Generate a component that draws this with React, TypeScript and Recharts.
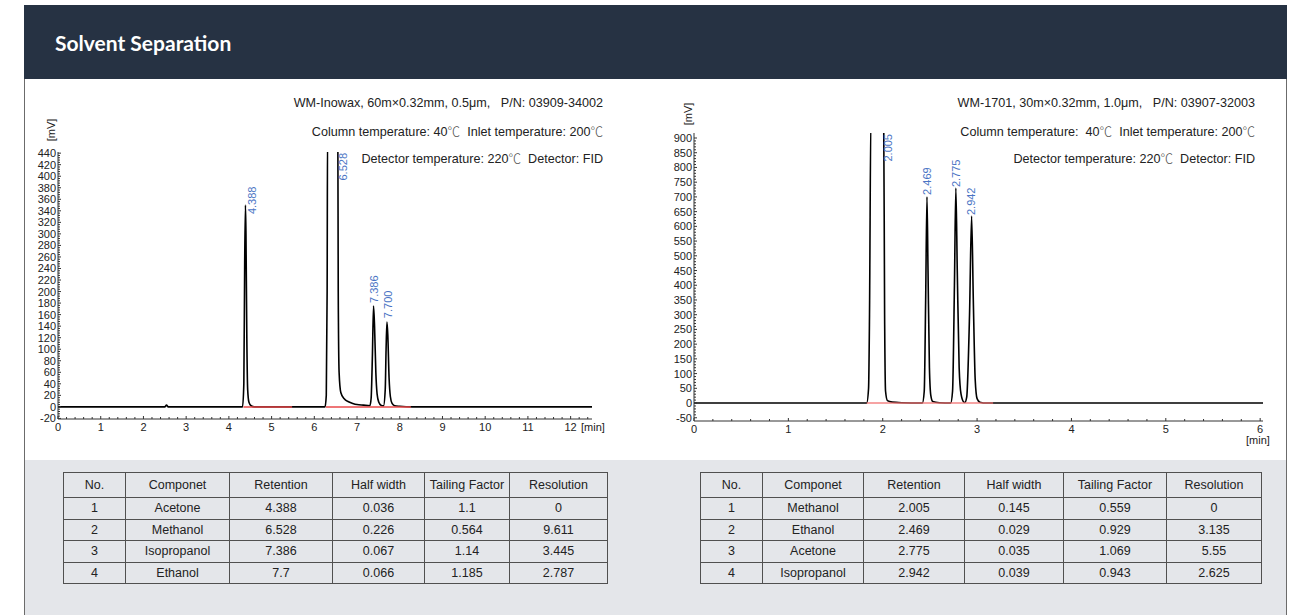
import React from "react";
import { ComposedChart, Line, Scatter, XAxis, YAxis } from "recharts";

// WM-Inowax trace, [min, mV]
const inowaxTrace = [
  [0, 0], [2.5, 0], [2.54, 3], [2.58, 0], [4.32, 0], [4.35, 40], [4.37, 250],
  [4.388, 350], [4.4, 300], [4.42, 120], [4.44, 30], [4.47, 8], [4.52, 2],
  [4.6, 0], [6.25, 0], [6.28, 20], [6.3, 200], [6.31, 480], [6.55, 480],
  [6.56, 200], [6.58, 60], [6.62, 25], [6.7, 14], [6.8, 9], [6.9, 6], [7.0, 4],
  [7.15, 3], [7.3, 2], [7.33, 15], [7.36, 90], [7.386, 175], [7.41, 140],
  [7.44, 60], [7.47, 22], [7.51, 8], [7.56, 3], [7.62, 2], [7.66, 30],
  [7.68, 100], [7.7, 147], [7.72, 125], [7.75, 50], [7.78, 18], [7.82, 6],
  [7.88, 2], [8.0, 1], [8.3, 0], [12.5, 0],
];
const inowaxBaselines = [[4.34, 5.48], [6.27, 8.26]];
const inowaxPeakTimes = [4.388, 6.528, 7.386, 7.7];
const inowaxPeakLabels = ["4.388", "6.528", "7.386", "7.700"];
const inowaxPeakHeights = [350, null, 175, 147]; // null = off scale
const inowaxXTicks = [0, 1, 2, 3, 4, 5, 6, 7, 8, 9, 10, 11, 12];
const inowaxYTicks = [
  -20, 0, 20, 40, 60, 80, 100, 120, 140, 160, 180, 200, 220, 240, 260, 280,
  300, 320, 340, 360, 380, 400, 420, 440,
];

// WM-1701 trace
const wm1701Trace = [
  [0, 0], [1.83, 0], [1.85, 50], [1.86, 300], [1.875, 980], [2.01, 980],
  [2.02, 300], [2.03, 40], [2.05, 8], [2.1, 3], [2.2, 1], [2.4, 0], [2.42, 0],
  [2.44, 40], [2.455, 350], [2.469, 700], [2.48, 450], [2.495, 120],
  [2.51, 25], [2.53, 5], [2.6, 1], [2.72, 0], [2.74, 40], [2.76, 400],
  [2.775, 730], [2.79, 450], [2.81, 120], [2.83, 30], [2.86, 3], [2.87, 2],
  [2.89, 20], [2.92, 300], [2.942, 635], [2.96, 350], [2.98, 80], [3.0, 15],
  [3.03, 3], [3.1, 0], [6.03, 0],
];
const wm1701Baselines = [[1.83, 3.17]];
const wm1701PeakTimes = [2.005, 2.469, 2.775, 2.942];
const wm1701PeakLabels = ["2.005", "2.469", "2.775", "2.942"];
const wm1701PeakHeights = [null, 700, 730, 635];
const wm1701XTicks = [0, 1, 2, 3, 4, 5, 6];
const wm1701YTicks = [
  -50, 0, 50, 100, 150, 200, 250, 300, 350, 400, 450, 500, 550, 600, 650, 700,
  750, 800, 850, 900,
];

// result tables
const tableHeaders = ["No.", "Componet", "Retention", "Half width", "Tailing Factor", "Resolution"];
const inowaxComponents = ["Acetone", "Methanol", "Isopropanol", "Ethanol"];
const inowaxRetention = ["4.388", "6.528", "7.386", "7.7"];
const inowaxHalfWidth = ["0.036", "0.226", "0.067", "0.066"];
const inowaxTailing = ["1.1", "0.564", "1.14", "1.185"];
const inowaxResolution = ["0", "9.611", "3.445", "2.787"];
const wm1701Components = ["Methanol", "Ethanol", "Acetone", "Isopropanol"];
const wm1701Retention = ["2.005", "2.469", "2.775", "2.942"];
const wm1701HalfWidth = ["0.145", "0.029", "0.035", "0.039"];
const wm1701Tailing = ["0.559", "0.929", "1.069", "0.943"];
const wm1701Resolution = ["0", "3.135", "5.55", "2.625"];

const SANS = '"Liberation Sans", Arial, sans-serif';
const NARROW = '"Liberation Sans Narrow", "Arial Narrow", "Liberation Sans", Arial, sans-serif';
const CJK = '"Noto Sans CJK SC", sans-serif';
const AXIS = "#333";

function tickRange(min: number, max: number, step: number) {
  const out: number[] = [];
  for (let v = min; v <= max + 1e-9; v += step) out.push(Math.round(v * 1000) / 1000);
  return out;
}

function XTick(props: any) {
  const { x, y, payload, major } = props;
  const isMajor = major.includes(payload.value);
  return (
    <g>
      <line x1={x} x2={x} y1={y} y2={y - (isMajor ? 3 : 2)} stroke={AXIS} />
      {isMajor && (
        <text x={x} y={y + 8} textAnchor="middle" dominantBaseline="central"
          fontSize={11} fontFamily={SANS} fill="#222">
          {payload.value}
        </text>
      )}
    </g>
  );
}

function YTick(props: any) {
  const { x, y, payload, major } = props;
  const isMajor = major.includes(payload.value);
  return (
    <g>
      <line x1={x} x2={x + (isMajor ? 3 : 2)} y1={y} y2={y} stroke={AXIS} />
      {isMajor && (
        <text x={x - 2} y={y} textAnchor="end" dominantBaseline="central"
          fontSize={11} fontFamily={SANS} fill="#222">
          {payload.value}
        </text>
      )}
    </g>
  );
}

function PeakLabel(props: any) {
  const { cx, cy, payload } = props;
  const x = cx + payload.dx;
  const y = cy + payload.dy;
  return (
    <text x={x} y={y} transform={`rotate(-90 ${x} ${y})`}
      textAnchor={payload.top ? "end" : "start"} dominantBaseline="central"
      fontSize={11} fontFamily={SANS} fill="#4a74c4">
      {payload.label}
    </text>
  );
}

interface ChromProps {
  trace: number[][];
  baselines: number[][];
  peakTimes: number[];
  peakLabels: string[];
  peakHeights: (number | null)[];
  labelOffsets: number[][];
  xTicks: number[];
  yTicks: number[];
  xDomain: [number, number];
  yDomain: [number, number];
  xMinor: number[];
  yMinor: number[];
  width: number;
  height: number;
  margin: { top: number; right: number; bottom: number; left: number };
  baselineColor: string;
}

function Chromatogram(p: ChromProps) {
  const points = p.trace.map(([t, v]) => ({ t, v }));
  const peaks = p.peakTimes.map((t, i) => ({
    t,
    v: p.peakHeights[i] ?? p.yDomain[1],
    top: p.peakHeights[i] == null,
    label: p.peakLabels[i],
    dx: p.labelOffsets[i][0],
    dy: p.labelOffsets[i][1],
  }));
  return (
    <ComposedChart width={p.width} height={p.height} margin={p.margin}>
      <XAxis type="number" dataKey="t" domain={p.xDomain} allowDataOverflow
        ticks={p.xMinor} interval={0} tickSize={0} tickMargin={0} tickLine={false}
        tick={<XTick major={p.xTicks} />} axisLine={{ stroke: AXIS }} height={30} />
      <YAxis type="number" domain={p.yDomain} allowDataOverflow
        ticks={p.yMinor} interval={0} tickSize={0} tickMargin={0} tickLine={false}
        tick={<YTick major={p.yTicks} />} axisLine={{ stroke: AXIS }} width={40} />
      <Line data={points} dataKey="v" type="monotone" stroke="#000" strokeWidth={1.6}
        dot={false} activeDot={false} isAnimationActive={false} />
      {p.baselines.map(([a, b], i) => (
        <Line key={i} data={[{ t: a, v: 0 }, { t: b, v: 0 }]} dataKey="v" type="linear"
          stroke={p.baselineColor} strokeWidth={1.5} dot={false} activeDot={false}
          isAnimationActive={false} />
      ))}
      <Scatter data={peaks} dataKey="v" shape={PeakLabel} isAnimationActive={false} />
    </ComposedChart>
  );
}

function ResultTable(props: {
  left: number; top: number; widths: number[];
  components: string[]; retention: string[]; halfWidth: string[];
  tailing: string[]; resolution: string[];
}) {
  const cell: React.CSSProperties = {
    border: "1px solid #505050", padding: 0, textAlign: "center", fontWeight: 400,
  };
  const total = props.widths.reduce((s, w) => s + w, 0);
  return (
    <table style={{
      position: "absolute", left: props.left, top: props.top, width: total,
      borderCollapse: "collapse", tableLayout: "fixed", fontFamily: SANS,
      fontSize: 12.5, color: "#222",
    }}>
      <colgroup>
        {props.widths.map((w, i) => <col key={i} style={{ width: w }} />)}
      </colgroup>
      <thead>
        <tr style={{ height: 25 }}>
          {tableHeaders.map((h) => <th key={h} style={cell}>{h}</th>)}
        </tr>
      </thead>
      <tbody>
        {props.components.map((c, i) => (
          <tr key={c} style={{ height: 21.5 }}>
            <td style={cell}>{i + 1}</td>
            <td style={cell}>{c}</td>
            <td style={cell}>{props.retention[i]}</td>
            <td style={cell}>{props.halfWidth[i]}</td>
            <td style={cell}>{props.tailing[i]}</td>
            <td style={cell}>{props.resolution[i]}</td>
          </tr>
        ))}
      </tbody>
    </table>
  );
}

// the degree sign comes from a CJK font in the original, full width and light
function withDegree(line: string) {
  return line.split("\u2103").map((part, i, all) => (
    <React.Fragment key={i}>
      {part}
      {i < all.length - 1 && (
        <span style={{ fontFamily: CJK, fontWeight: 300, color: "#555" }}>{"\u2103"}</span>
      )}
    </React.Fragment>
  ));
}

function InfoBlock({ right, lines }: { right: number; lines: string[] }) {
  return (
    <>
      {lines.map((l, i) => (
        <div key={i} style={{
          position: "absolute", right, top: 95 + i * 27.5, lineHeight: "16px",
          fontFamily: NARROW, fontSize: 12.6, color: "#222", whiteSpace: "pre",
        }}>
          {withDegree(l)}
        </div>
      ))}
    </>
  );
}

const unitStyle: React.CSSProperties = {
  position: "absolute", fontFamily: SANS, fontSize: 11, color: "#222", lineHeight: "12px",
};

export default function App() {
  return (
    <div style={{ position: "absolute", left: 0, top: 0, width: 1306, height: 615, background: "#fff", overflow: "hidden" }}>
      {/* header band */}
      <div style={{
        position: "absolute", left: 24, top: 5, width: 1263, height: 74, background: "#263243",
        display: "flex", alignItems: "center",
      }}>
        <span style={{ marginLeft: 31, color: "#fff", fontFamily: "Lato, sans-serif", fontWeight: 700, fontSize: 21 }}>
          Solvent Separation
        </span>
      </div>
      {/* card sides and table band */}
      <div style={{ position: "absolute", left: 24, top: 79, width: 1, height: 536, background: "#6b6b6b" }} />
      <div style={{ position: "absolute", left: 1286, top: 79, width: 1, height: 536, background: "#6b6b6b" }} />
      <div style={{ position: "absolute", left: 25, top: 460, width: 1261, height: 155, background: "#e4e6ea" }} />

      <InfoBlock right={1306 - 603} lines={[
        "WM-Inowax, 60m×0.32mm, 0.5μm,   P/N: 03909-34002",
        "Column temperature: 40\u2103  Inlet temperature: 200\u2103",
        "Detector temperature: 220\u2103  Detector: FID",
      ]} />
      <InfoBlock right={1306 - 1255} lines={[
        "WM-1701, 30m×0.32mm, 1.0μm,   P/N: 03907-32003",
        "Column temperature:  40\u2103  Inlet temperature: 200\u2103",
        "Detector temperature: 220\u2103  Detector: FID",
      ]} />

      <div style={{ ...unitStyle, left: 40, top: 124, transform: "rotate(-90deg)" }}>[mV]</div>
      <div style={{ ...unitStyle, left: 677, top: 108, transform: "rotate(-90deg)" }}>[mV]</div>
      <div style={{ ...unitStyle, left: 581, top: 421 }}>[min]</div>
      <div style={{ ...unitStyle, left: 1246, top: 434 }}>[min]</div>

      <div style={{ position: "absolute", left: 0, top: 90 }}>
        <Chromatogram
          trace={inowaxTrace} baselines={inowaxBaselines}
          peakTimes={inowaxPeakTimes} peakLabels={inowaxPeakLabels} peakHeights={inowaxPeakHeights}
          labelOffsets={[[7, 9], [6, 1], [0, -3], [1, -4]]}
          xTicks={inowaxXTicks} yTicks={inowaxYTicks}
          xDomain={[0, 12.5]} yDomain={[-21, 442]}
          xMinor={tickRange(0, 12.4, 0.2)} yMinor={tickRange(-20, 440, 4)}
          width={620} height={370} margin={{ top: 62, right: 28, bottom: 11, left: 18 }}
          baselineColor="#e8484a"
        />
      </div>
      <div style={{ position: "absolute", left: 650, top: 90 }}>
        <Chromatogram
          trace={wm1701Trace} baselines={wm1701Baselines}
          peakTimes={wm1701PeakTimes} peakLabels={wm1701PeakLabels} peakHeights={wm1701PeakHeights}
          labelOffsets={[[5, 1], [0, -2], [0, -1], [-1, -1]]}
          xTicks={wm1701XTicks} yTicks={wm1701YTicks}
          xDomain={[0, 6.03]} yDomain={[-61, 917]}
          xMinor={tickRange(0, 6, 0.2)} yMinor={tickRange(-50, 900, 10)}
          width={640} height={370} margin={{ top: 43, right: 27, bottom: 9, left: 4 }}
          baselineColor="rgba(240,110,110,0.85)"
        />
      </div>

      <ResultTable left={63} top={472} widths={[62, 104, 103, 92, 85, 98]}
        components={inowaxComponents} retention={inowaxRetention} halfWidth={inowaxHalfWidth}
        tailing={inowaxTailing} resolution={inowaxResolution} />
      <ResultTable left={700} top={472} widths={[62, 101, 101, 99, 103, 95]}
        components={wm1701Components} retention={wm1701Retention} halfWidth={wm1701HalfWidth}
        tailing={wm1701Tailing} resolution={wm1701Resolution} />
    </div>
  );
}
